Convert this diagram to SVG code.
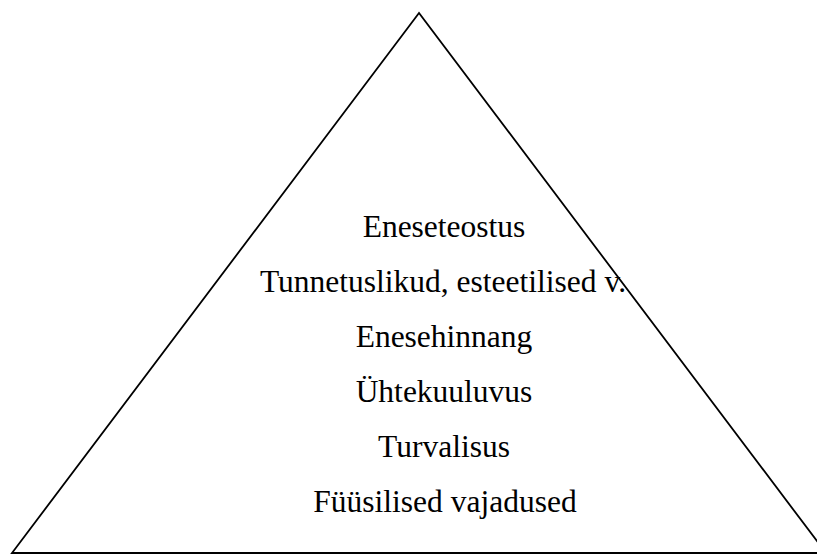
<svg xmlns="http://www.w3.org/2000/svg" width="817" height="556" viewBox="0 0 817 556">
<style>
.lbl{font-family:"Liberation Serif","Times New Roman",serif;font-size:31.5px;fill:#000;text-anchor:middle}
.edge{fill:none;stroke:#000;stroke-width:1.8}
</style>
<rect width="817" height="556" fill="#fff"/>
<g id="pyramid">
<polygon class="edge" points="419,13 12,553 826,553"/>
</g>
<g id="levels">
<text class="lbl" x="444" y="237">Eneseteostus</text>
<text class="lbl" x="443" y="292">Tunnetuslikud, esteetilised v.</text>
<text class="lbl" x="444" y="347">Enesehinnang</text>
<text class="lbl" x="444" y="402">Ühtekuuluvus</text>
<text class="lbl" x="444" y="457">Turvalisus</text>
<text class="lbl" x="445" y="512">Füüsilised vajadused</text>
</g>
</svg>
